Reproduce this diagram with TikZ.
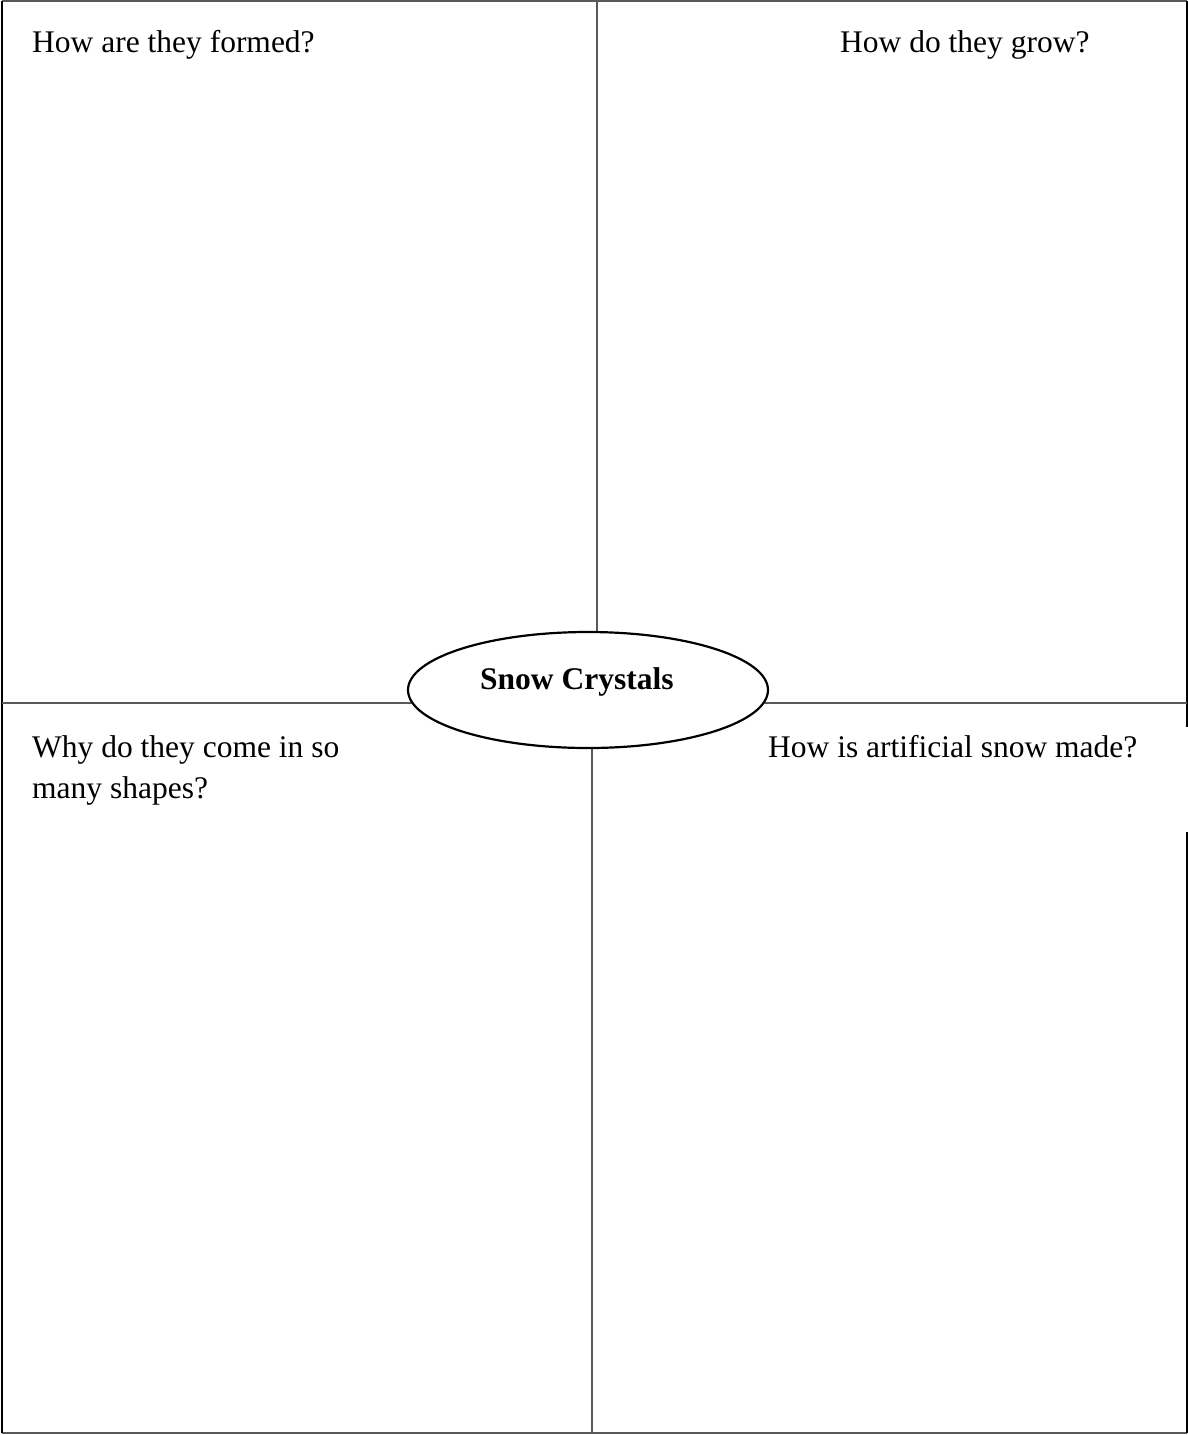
\documentclass[tikz,border=0pt]{standalone}
\usepackage{fontspec}
\setmainfont{Liberation Serif}
\usetikzlibrary{shapes.geometric}
\tikzset{
  thin line/.style={draw=black!65, line width=1.2pt},
  thick line/.style={draw=black, line width=2pt},
  label text/.style={anchor=base west, inner sep=0pt, font=\fontsize{31.5}{41}\selectfont, align=left},
  center oval/.style={ellipse, draw=black, line width=2.2pt, fill=white, minimum width=360pt, minimum height=116pt, inner sep=0pt, font=\fontsize{31.5}{38}\selectfont\bfseries}
}
\begin{document}
\begin{tikzpicture}[x=1pt,y=-1pt]
\useasboundingbox (0,0) rectangle (1188,1435);
% frame corners and points
\coordinate (tl) at (2,1);
\coordinate (tr) at (1187,1);
\coordinate (bl) at (2,1433);
\coordinate (br) at (1187,1433);
\coordinate (rgapA) at (1187,727);
\coordinate (rgapB) at (1187,832);
\coordinate (topmid) at (597,1);
\coordinate (topend) at (597,690);
\coordinate (botstart) at (592,690);
\coordinate (botmid) at (592,1433);
\coordinate (lm) at (2,703);
\coordinate (rm) at (1187,703);
% frame
\draw[thin line] (tl) -- (tr);
\draw[thin line] (bl) -- (br);
\draw[thick line] (tl) -- (bl);
\draw[thick line] (tr) -- (rgapA);
\draw[thick line] (rgapB) -- (br);
% dividers
\draw[thin line] (topmid) -- (topend);
\draw[thin line] (botstart) -- (botmid);
\draw[thin line] (lm) -- (rm);
% center
\node[center oval] (c) at (588,690) {};
\node[anchor=base west, inner sep=0pt, font=\fontsize{31.5}{38}\selectfont\bfseries] (ctext) at (480,689) {Snow Crystals};
% labels
\node[label text] (q1) at (32,52) {How are they formed?};
\node[label text] (q2) at (840,52) {How do they grow?};
\node[label text] (q3) at (32,798) {Why do they come in so\\many shapes?};
\node[label text] (q4) at (768,757) {How is artificial snow made?};
\end{tikzpicture}
\end{document}
